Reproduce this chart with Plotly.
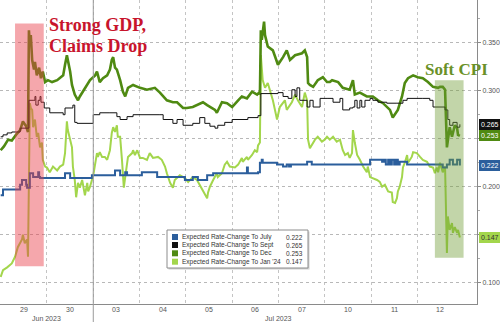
import plotly.graph_objects as go

# ---------------- data ----------------
day_labels = ["29", "30", "03", "04", "05", "06", "07", "10", "11", "12"]
day_centers = [0.5, 1.5, 2.5, 3.5, 4.5, 5.5, 6.5, 7.5, 8.5, 9.5]
day_bounds = [0, 1, 2, 3, 4, 5, 6, 7, 8, 9]
month_labels = ["Jun 2023", "Jul 2023"]
month_centers = [1.0, 6.0]
month_sep = 2

names = ["Expected Rate-Change To July", "Expected Rate-Change To Sept",
         "Expected Rate-Change To Dec", "Expected Rate-Change To Jan '24"]
last_vals = [0.222, 0.265, 0.253, 0.147]

y_ticks = [0.10, 0.15, 0.20, 0.25, 0.30, 0.35]
y_ticktext = ["0.100", "", "0.200", "", "0.300", "0.350"]

july_x = [0.00, 0.05, 0.42, 0.46, 0.55, 0.57, 0.63, 0.70, 0.81, 0.83, 0.85, 1.39, 1.50, 1.97, 2.47,
          2.58, 2.69, 2.73, 3.05, 3.38, 3.98, 4.15, 4.26, 4.46, 4.59, 5.32, 5.34, 5.56, 5.60, 5.64,
          5.66, 5.97, 6.10, 6.18, 6.23, 6.27, 6.62, 6.72, 7.98, 8.24, 8.28, 8.32, 8.37, 8.41, 8.45,
          8.50, 8.54, 8.58, 8.62, 8.78, 9.55, 9.64, 9.70, 9.77, 9.86, 9.92]
july_y = [0.191, 0.197, 0.202, 0.207, 0.202, 0.199, 0.214, 0.210, 0.215, 0.210, 0.209, 0.214, 0.209,
          0.212, 0.217, 0.212, 0.215, 0.212, 0.215, 0.210, 0.207, 0.210, 0.207, 0.212, 0.214, 0.220,
          0.214, 0.215, 0.225, 0.228, 0.225, 0.223, 0.221, 0.223, 0.221, 0.223, 0.226, 0.223, 0.228,
          0.226, 0.228, 0.223, 0.228, 0.223, 0.228, 0.223, 0.228, 0.223, 0.226, 0.223, 0.220, 0.223,
          0.228, 0.223, 0.228, 0.222]

sept_x = [0.00, 0.05, 0.14, 0.24, 0.42, 0.59, 0.61, 0.70, 0.74, 0.76, 0.81, 0.85, 0.87, 0.94, 1.06,
          1.35, 1.39, 1.54, 1.56, 1.60, 1.65, 1.93, 2.00, 2.14, 2.36, 2.51, 2.58, 2.73, 2.86, 3.44,
          3.51, 3.72, 3.81, 3.94, 4.15, 4.30, 4.41, 4.52, 4.63, 4.69, 4.84, 5.00, 5.34, 5.56, 5.62,
          5.99, 6.10, 6.21, 6.29, 6.36, 6.40, 6.46, 6.62, 6.68, 6.75, 6.90, 7.07, 7.18, 7.33, 7.39,
          7.54, 7.61, 7.65, 7.70, 7.76, 7.80, 7.87, 7.98, 8.04, 8.15, 8.34, 8.56, 8.69, 8.78, 9.12,
          9.27, 9.34, 9.60, 9.66, 9.70, 9.77, 9.86, 9.92]
sept_y = [0.252, 0.254, 0.256, 0.257, 0.261, 0.261, 0.290, 0.290, 0.294, 0.285, 0.290, 0.294, 0.288,
          0.282, 0.277, 0.275, 0.282, 0.282, 0.285, 0.267, 0.266, 0.266, 0.275, 0.277, 0.277, 0.273,
          0.270, 0.273, 0.275, 0.275, 0.270, 0.266, 0.270, 0.264, 0.266, 0.272, 0.266, 0.263, 0.261,
          0.264, 0.267, 0.270, 0.272, 0.274, 0.297, 0.298, 0.294, 0.292, 0.301, 0.294, 0.303, 0.290,
          0.283, 0.290, 0.283, 0.292, 0.292, 0.288, 0.292, 0.280, 0.282, 0.283, 0.290, 0.282, 0.290,
          0.283, 0.290, 0.292, 0.290, 0.288, 0.287, 0.287, 0.290, 0.292, 0.292, 0.290, 0.283, 0.280,
          0.270, 0.264, 0.267, 0.262, 0.265]

dec_x = [0.00, 0.07, 0.16, 0.24, 0.33, 0.42, 0.48, 0.55, 0.59, 0.61, 0.63, 0.65, 0.68, 0.72, 0.74,
         0.78, 0.83, 0.87, 0.91, 0.96, 1.02, 1.11, 1.22, 1.28, 1.35, 1.39, 1.43, 1.50, 1.54, 1.60,
         1.67, 1.71, 1.82, 1.87, 1.93, 2.04, 2.08, 2.14, 2.21, 2.30, 2.36, 2.40, 2.43, 2.47, 2.51,
         2.58, 2.64, 2.69, 2.75, 2.86, 3.01, 3.16, 3.33, 3.44, 3.59, 3.72, 3.81, 3.94, 4.02, 4.15,
         4.30, 4.37, 4.46, 4.52, 4.63, 4.67, 4.78, 4.89, 5.00, 5.13, 5.21, 5.32, 5.43, 5.54, 5.58,
         5.60, 5.62, 5.64, 5.69, 5.71, 5.75, 5.77, 5.88, 5.97, 5.99, 6.10, 6.18, 6.25, 6.36, 6.51,
         6.57, 6.62, 6.64, 6.68, 6.75, 6.85, 6.96, 7.05, 7.11, 7.16, 7.29, 7.39, 7.54, 7.61, 7.65,
         7.76, 7.91, 8.04, 8.15, 8.26, 8.41, 8.47, 8.58, 8.67, 8.73, 8.80, 8.91, 9.01, 9.12, 9.23,
         9.34, 9.45, 9.49, 9.55, 9.60, 9.64, 9.66, 9.70, 9.75, 9.77, 9.81, 9.86, 9.88, 9.92]
dec_y = [0.238, 0.242, 0.249, 0.248, 0.254, 0.259, 0.268, 0.263, 0.257, 0.363, 0.348, 0.358, 0.332,
         0.322, 0.330, 0.316, 0.324, 0.313, 0.320, 0.309, 0.311, 0.309, 0.311, 0.313, 0.316, 0.327,
         0.337, 0.320, 0.306, 0.296, 0.290, 0.294, 0.303, 0.306, 0.311, 0.316, 0.320, 0.309, 0.313,
         0.316, 0.322, 0.332, 0.335, 0.324, 0.322, 0.311, 0.299, 0.294, 0.303, 0.306, 0.303, 0.301,
         0.303, 0.298, 0.290, 0.288, 0.288, 0.282, 0.282, 0.283, 0.287, 0.288, 0.285, 0.283, 0.280,
         0.277, 0.288, 0.287, 0.283, 0.290, 0.294, 0.292, 0.299, 0.296, 0.298, 0.296, 0.363, 0.353,
         0.372, 0.358, 0.348, 0.346, 0.342, 0.330, 0.327, 0.335, 0.342, 0.332, 0.337, 0.339, 0.342,
         0.335, 0.308, 0.306, 0.304, 0.311, 0.314, 0.309, 0.309, 0.311, 0.309, 0.303, 0.301, 0.311,
         0.296, 0.298, 0.294, 0.294, 0.290, 0.287, 0.280, 0.272, 0.280, 0.294, 0.308, 0.313, 0.316,
         0.314, 0.313, 0.309, 0.304, 0.303, 0.304, 0.304, 0.301, 0.241, 0.249, 0.262, 0.252, 0.256,
         0.264, 0.261, 0.254, 0.253]

jan_x = [0.00, 0.05, 0.14, 0.24, 0.31, 0.37, 0.46, 0.48, 0.52, 0.57, 0.59, 0.63, 0.65, 0.68, 0.70,
         0.74, 0.78, 0.81, 0.85, 0.89, 0.91, 0.96, 1.00, 1.06, 1.13, 1.22, 1.28, 1.35, 1.39, 1.43,
         1.45, 1.50, 1.54, 1.56, 1.60, 1.63, 1.67, 1.71, 1.76, 1.82, 1.87, 1.89, 1.93, 2.00, 2.04,
         2.08, 2.10, 2.14, 2.19, 2.25, 2.30, 2.36, 2.40, 2.43, 2.47, 2.51, 2.53, 2.58, 2.62, 2.64,
         2.66, 2.71, 2.75, 2.84, 2.86, 2.90, 2.95, 3.01, 3.07, 3.16, 3.22, 3.29, 3.40, 3.48, 3.55,
         3.59, 3.66, 3.72, 3.76, 3.87, 3.98, 4.05, 4.15, 4.24, 4.30, 4.37, 4.46, 4.48, 4.52, 4.59,
         4.67, 4.69, 4.78, 4.84, 4.89, 4.95, 5.06, 5.13, 5.17, 5.21, 5.23, 5.32, 5.34, 5.43, 5.49,
         5.54, 5.56, 5.60, 5.62, 5.66, 5.71, 5.77, 5.88, 5.97, 6.03, 6.14, 6.18, 6.29, 6.36, 6.42,
         6.51, 6.57, 6.62, 6.64, 6.68, 6.75, 6.79, 6.85, 6.94, 7.00, 7.05, 7.11, 7.18, 7.26, 7.33,
         7.39, 7.44, 7.50, 7.54, 7.59, 7.61, 7.65, 7.70, 7.76, 7.83, 7.91, 7.93, 7.98, 8.04, 8.13,
         8.19, 8.24, 8.30, 8.37, 8.45, 8.47, 8.52, 8.56, 8.58, 8.62, 8.67, 8.69, 8.73, 8.78, 8.80,
         8.84, 8.88, 8.91, 8.99, 9.06, 9.12, 9.21, 9.27, 9.34, 9.38, 9.42, 9.45, 9.49, 9.53, 9.55,
         9.60, 9.64, 9.66, 9.70, 9.75, 9.77, 9.81, 9.86, 9.88, 9.92]
jan_y = [0.106, 0.113, 0.116, 0.120, 0.127, 0.137, 0.145, 0.150, 0.141, 0.145, 0.127, 0.287, 0.282,
         0.280, 0.262, 0.270, 0.252, 0.256, 0.241, 0.246, 0.228, 0.221, 0.220, 0.215, 0.221, 0.217,
         0.221, 0.223, 0.235, 0.268, 0.259, 0.249, 0.241, 0.221, 0.207, 0.189, 0.204, 0.199, 0.207,
         0.191, 0.204, 0.195, 0.200, 0.212, 0.225, 0.235, 0.231, 0.236, 0.231, 0.231, 0.228, 0.238,
         0.256, 0.262, 0.257, 0.264, 0.252, 0.252, 0.228, 0.210, 0.199, 0.217, 0.231, 0.235, 0.238,
         0.233, 0.238, 0.230, 0.230, 0.228, 0.235, 0.230, 0.231, 0.228, 0.221, 0.214, 0.204, 0.199,
         0.207, 0.212, 0.209, 0.205, 0.210, 0.207, 0.202, 0.197, 0.188, 0.194, 0.200, 0.207, 0.214,
         0.210, 0.214, 0.223, 0.226, 0.221, 0.220, 0.223, 0.226, 0.230, 0.226, 0.231, 0.228, 0.233,
         0.238, 0.236, 0.243, 0.246, 0.337, 0.311, 0.303, 0.308, 0.290, 0.270, 0.283, 0.290, 0.280,
         0.288, 0.296, 0.290, 0.283, 0.298, 0.290, 0.249, 0.240, 0.246, 0.249, 0.252, 0.247, 0.249,
         0.252, 0.249, 0.252, 0.247, 0.249, 0.238, 0.233, 0.235, 0.230, 0.235, 0.259, 0.246, 0.233,
         0.228, 0.221, 0.215, 0.221, 0.210, 0.209, 0.207, 0.205, 0.200, 0.202, 0.195, 0.194, 0.184,
         0.183, 0.188, 0.195, 0.200, 0.210, 0.220, 0.225, 0.233, 0.225, 0.228, 0.231, 0.236, 0.235,
         0.231, 0.228, 0.226, 0.221, 0.220, 0.214, 0.220, 0.215, 0.225, 0.217, 0.215, 0.221, 0.131,
         0.169, 0.155, 0.162, 0.152, 0.158, 0.152, 0.155, 0.147]

# ---------------- styling ----------------
W, H = 500, 322
ML, MR, MT, MB = 0, 23, 0, 18
PW, PH = W - ML - MR, H - MT - MB


def px(x):
    return x / PW


def py(y):
    return 1 - y / PH


colors = ["#2b5e9c", "#111111", "#4f8a12", "#a3d64c"]
widths = [2, 1, 2.6, 2]
shapes_line = ["hv", "hv", "linear", "linear"]
series_x = [july_x, sept_x, dec_x, jan_x]
series_y = [july_y, sept_y, dec_y, jan_y]

fig = go.Figure()
for i in [3, 2, 1, 0]:
    fig.add_trace(go.Scatter(x=series_x[i], y=series_y[i], mode="lines", name=names[i],
                             line=dict(color=colors[i], width=widths[i], shape=shapes_line[i]),
                             hoverinfo="skip"))

fig.update_layout(
    width=W, height=H, margin=dict(l=ML, r=MR, t=MT, b=MB),
    plot_bgcolor="white", paper_bgcolor="white", showlegend=False,
    font=dict(family="Liberation Sans", size=7, color="#555555"),
)
fig.update_xaxes(
    range=[-0.015, 10.29], showticklabels=False,
    showgrid=False, ticks="", zeroline=False, showline=True, linecolor="#8a8a8a", linewidth=1,
    minor=dict(tickmode="array", tickvals=day_bounds, showgrid=True, gridcolor="#c4c4c4",
               griddash="dot", gridwidth=1, ticks=""),
)
fig.update_yaxes(
    side="right", range=[0.0778, 0.3945], tickmode="array", tickvals=y_ticks, ticktext=y_ticktext,
    showgrid=True, gridcolor="#b8b8b8", griddash="dot", gridwidth=1, zeroline=False,
    showline=True, linecolor="#8a8a8a", linewidth=1, ticks="outside", ticklen=3, tickcolor="#8a8a8a",
    tickfont=dict(size=7, color="#555555"),
    minor=dict(dtick=0.025, tick0=0.1, ticks="outside", ticklen=2, tickcolor="#aaaaaa", showgrid=False),
)

shapes = []
# month separator
shapes.append(dict(type="line", xref="x", yref="paper", x0=month_sep, x1=month_sep,
                   y0=py(H - MT), y1=1, line=dict(color="#9a9a9a", width=1)))
# highlight boxes
shapes.append(dict(type="rect", xref="x", yref="y", x0=0.31, x1=0.93, y0=0.117, y1=0.370,
                   fillcolor="rgba(232,60,72,0.45)", line=dict(width=0), layer="above"))
shapes.append(dict(type="rect", xref="x", yref="y", x0=9.38, x1=10.0, y0=0.126, y1=0.311,
                   fillcolor="rgba(110,155,50,0.42)", line=dict(width=0), layer="above"))
# legend box
lx0, lx1, ly0, ly1 = 167, 308, 230, 268
shapes.append(dict(type="rect", xref="paper", yref="paper", x0=px(lx0 + 1.5), x1=px(lx1 + 1.5),
                   y0=py(ly1 + 1.5), y1=py(ly0 + 1.5), fillcolor="#d0d0d0", line=dict(width=0),
                   layer="above"))
shapes.append(dict(type="rect", xref="paper", yref="paper", x0=px(lx0), x1=px(lx1),
                   y0=py(ly1), y1=py(ly0), fillcolor="white", line=dict(color="#8c8c8c", width=1),
                   layer="above"))

annotations = []
rows = [237, 245, 253.3, 261.7]
for i in range(4):
    yc = rows[i]
    shapes.append(dict(type="rect", xref="paper", yref="paper", x0=px(172), x1=px(178),
                       y0=py(yc + 3), y1=py(yc - 3), fillcolor=colors[i],
                       line=dict(width=0), layer="above"))
    annotations.append(dict(xref="paper", yref="paper", x=px(179.5), y=py(yc), xanchor="left",
                            yanchor="middle", text=names[i], showarrow=False,
                            font=dict(family="Liberation Sans", size=6.5, color="#333333")))
    annotations.append(dict(xref="paper", yref="paper", x=px(304.5), y=py(yc), xanchor="right",
                            yanchor="middle", text=f"{last_vals[i]:.3f}", showarrow=False,
                            font=dict(family="Liberation Sans", size=6.5, color="#333333")))

# value flags on right axis
flag_text_col = ["white", "white", "white", "#333333"]
for i in range(4):
    annotations.append(dict(xref="paper", yref="y", x=px(478.5), y=last_vals[i], xanchor="left",
                            yanchor="middle", text=f"{last_vals[i]:.3f}", showarrow=False,
                            bgcolor=colors[i], borderpad=1, bordercolor=colors[i],
                            font=dict(family="Liberation Sans", size=7, color=flag_text_col[i])))

# day labels under the axis
for lab, c in zip(day_labels, day_centers):
    annotations.append(dict(xref="x", yref="paper", x=c, y=py(310), xanchor="center",
                            yanchor="middle", text=lab, showarrow=False,
                            font=dict(family="Liberation Sans", size=7, color="#555555")))

# month labels
for m, c in zip(month_labels, month_centers):
    annotations.append(dict(xref="x", yref="paper", x=c, y=py(318), xanchor="center",
                            yanchor="middle", text=m, showarrow=False,
                            font=dict(family="Liberation Sans", size=7, color="#555555")))

# headline annotations
annotations.append(dict(xref="paper", yref="paper", x=px(47), y=py(25.5), xanchor="left",
                        yanchor="middle", align="left", text="<b>Strong GDP,</b>",
                        showarrow=False,
                        font=dict(family="Liberation Serif", size=18, color="#c8142c")))
annotations.append(dict(xref="paper", yref="paper", x=px(47), y=py(45.5), xanchor="left",
                        yanchor="middle", align="left", text="<b>Claims Drop</b>",
                        showarrow=False,
                        font=dict(family="Liberation Serif", size=18, color="#c8142c")))
annotations.append(dict(xref="paper", yref="paper", x=px(423), y=py(69), xanchor="left",
                        yanchor="middle", align="left", text="<b>Soft CPI</b>", showarrow=False,
                        font=dict(family="Liberation Serif", size=17, color="#6a9128")))

fig.update_layout(shapes=shapes, annotations=annotations)
fig.write_html("out.html")
